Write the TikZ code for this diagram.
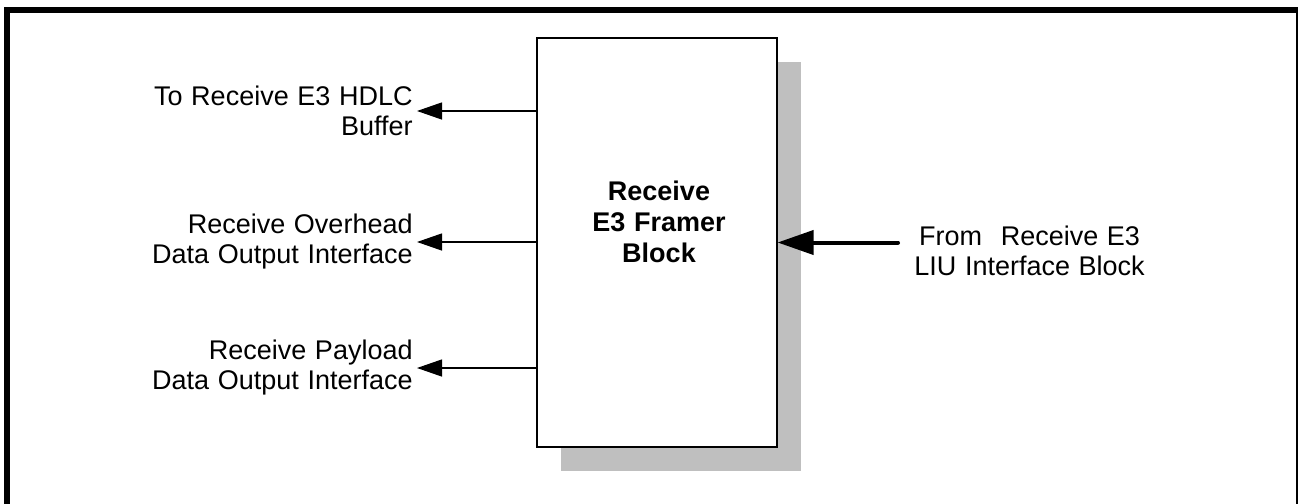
\documentclass[tikz,border=0pt]{standalone}
\usepackage{fontspec}
\setmainfont{Liberation Sans}[WordSpace=1.15]
\usetikzlibrary{arrows.meta,positioning}

\begin{document}
\begin{tikzpicture}[x=.5pt,y=-.5pt,font=\fontsize{13.5}{15}\selectfont,
  lbl/.style={inner xsep=2pt,inner ysep=0pt},
  outarrow/.style={-{Triangle[length=12.5pt,width=8.5pt]},line width=.65pt},
  inarrow/.style={-{Triangle[length=18pt,width=12pt]},line width=2pt,line cap=round}]
\useasboundingbox (0,0) rectangle (1298,504);
\draw[line width=3pt] (7,504) -- (7,9.5) -- (1299,9.5) -- (1299,504);
% block with its shadow
\fill[black!25] (561,62) rectangle (801,471);
\node[draw,line width=.6pt,fill=white,minimum width=120pt,minimum height=204.5pt,inner sep=0pt] (framer) at (657,242.5) {};
\node[font=\fontsize{13.5}{15.5}\selectfont\bfseries,align=center,inner sep=0pt] (framertext) at (659,222) {Receive\\E3 Framer\\Block};
% outputs
\node[lbl,align=right,anchor=east] (hdlc) at (417,111) {To Receive E3 HDLC\\Buffer};
\node[lbl,align=right,anchor=east] (ovhd) at (417,242) {Receive Overhead\\Data Output Interface};
\node[lbl,align=right,anchor=east] (pyld) at (417,368) {Receive Payload\\Data Output Interface};
\draw[outarrow] (framer.west |- hdlc) -- (hdlc.east);
\draw[outarrow] (framer.west |- ovhd) -- (ovhd.east);
\draw[outarrow] (framer.west |- pyld) -- (pyld.east);
% input
\coordinate (liustart) at (898,242.5);
\node[lbl,align=center,anchor=west] (liu) at (910,251) {From\hspace{5pt} Receive E3\\LIU Interface Block};
\draw[inarrow] (liustart) -- (framer.east);
\end{tikzpicture}
\end{document}
